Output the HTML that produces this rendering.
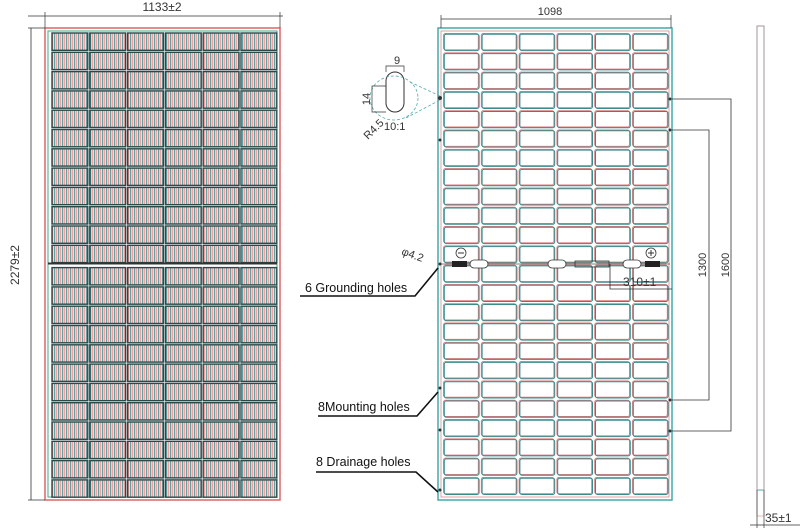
<!DOCTYPE html>
<html><head><meta charset="utf-8"><style>
html,body{margin:0;padding:0;background:#fff;width:803px;height:532px;overflow:hidden}
svg{display:block}
text{font-family:"Liberation Sans",sans-serif;fill:#333}
</style></head><body>
<svg id="s" width="803" height="532" viewBox="0 0 803 532" xmlns="http://www.w3.org/2000/svg">
<defs>
<pattern id="str" width="4" height="10" patternUnits="userSpaceOnUse">
<rect width="4" height="10" fill="#fff"/>
<rect x="0.3" width="1" height="10" fill="#e77"/>
<rect x="2.2" width="1.1" height="10" fill="#3a8a8a"/>
</pattern>
</defs>
<!-- left panel -->
<rect x="45" y="28" width="235" height="472" fill="#fff" stroke="#d66" stroke-width="1.5"/>
<rect x="48" y="31" width="229" height="466" fill="#fff" stroke="#4a8" stroke-width="1"/>
<g id="L"></g>
<line x1="28" y1="16" x2="283" y2="16" stroke="#333" stroke-width="0.8"/>
<line x1="45" y1="12" x2="45" y2="28" stroke="#333" stroke-width="0.7"/>
<line x1="280" y1="12" x2="280" y2="28" stroke="#333" stroke-width="0.7"/>
<text x="162" y="11" font-size="12" text-anchor="middle">1133±2</text>
<line x1="31" y1="28" x2="31" y2="500" stroke="#333" stroke-width="0.8"/>
<line x1="28" y1="28" x2="45" y2="28" stroke="#333" stroke-width="0.7"/>
<line x1="28" y1="500" x2="45" y2="500" stroke="#333" stroke-width="0.7"/>
<text x="0" y="0" font-size="12" text-anchor="middle" transform="translate(19,265) rotate(-90)">2279±2</text>
<!-- right panel -->
<rect x="438" y="28" width="234" height="472" fill="#fff" stroke="#4aa" stroke-width="1.5"/>
<rect x="441" y="31" width="228" height="466" fill="none" stroke="#d88" stroke-width="0.8"/>
<g id="R"></g>
<line x1="441" y1="19" x2="671" y2="19" stroke="#333" stroke-width="0.8"/>
<line x1="441" y1="15" x2="441" y2="28" stroke="#333" stroke-width="0.7"/>
<line x1="671" y1="15" x2="671" y2="28" stroke="#333" stroke-width="0.7"/>
<text x="550" y="15" font-size="11" text-anchor="middle">1098</text>
<!-- junction line -->
<line x1="441" y1="264" x2="670" y2="264" stroke="#555" stroke-width="0.8"/>
<rect x="452" y="261" width="15" height="6" fill="#222"/>
<rect x="470" y="260" width="18" height="8" rx="4" fill="#fff" stroke="#333" stroke-width="0.8"/>
<rect x="548" y="260" width="18" height="8" rx="4" fill="#fff" stroke="#333" stroke-width="0.8"/>
<rect x="575" y="261" width="34" height="6" fill="none" stroke="#333" stroke-width="0.8"/>
<rect x="623" y="260" width="18" height="8" rx="4" fill="#fff" stroke="#333" stroke-width="0.8"/>
<rect x="645" y="261" width="15" height="6" fill="#222"/>
<circle cx="461" cy="253" r="5" fill="none" stroke="#333" stroke-width="0.8"/><line x1="458" y1="253" x2="464" y2="253" stroke="#333"/>
<circle cx="651" cy="253" r="5" fill="none" stroke="#333" stroke-width="0.8"/><line x1="648" y1="253" x2="654" y2="253" stroke="#333"/><line x1="651" y1="250" x2="651" y2="256" stroke="#333"/>
<polyline points="610,264 610,289 672,289" fill="none" stroke="#333" stroke-width="0.8"/>
<text x="623" y="286" font-size="12">310±1</text>
<text x="0" y="0" font-size="11" transform="translate(422,262) rotate(20)" text-anchor="end">φ4.2</text>
<!-- right dims -->
<polyline points="672,99 731,99 731,431 672,431" fill="none" stroke="#333" stroke-width="0.8"/>
<polyline points="672,130 709,130 709,400 672,400" fill="none" stroke="#333" stroke-width="0.8"/>
<text font-size="11" text-anchor="middle" transform="translate(706,265) rotate(-90)">1300</text>
<text font-size="11" text-anchor="middle" transform="translate(729,265) rotate(-90)">1600</text>
<g fill="#333"><circle cx="440" cy="98" r="2"/><circle cx="440" cy="140" r="1.5"/><circle cx="440" cy="388" r="1.5"/><circle cx="440" cy="430" r="1.5"/><circle cx="670" cy="99" r="1.5"/><circle cx="670" cy="130" r="1.5"/><circle cx="670" cy="400" r="1.5"/><circle cx="670" cy="431" r="1.5"/><circle cx="440" cy="490" r="1.5"/><circle cx="440" cy="264" r="1.5"/></g>
<!-- detail -->
<rect x="386" y="72" width="18" height="40" rx="9" fill="#fff" stroke="#333" stroke-width="1"/>
<ellipse cx="394" cy="98" rx="24" ry="22" fill="none" stroke="#5aa" stroke-width="0.8" stroke-dasharray="3,2"/>
<line x1="410" y1="82" x2="440" y2="96" stroke="#5aa" stroke-width="0.8" stroke-dasharray="3,2"/>
<line x1="406" y1="118" x2="440" y2="100" stroke="#5aa" stroke-width="0.8" stroke-dasharray="3,2"/>
<polyline points="386,72 386,66 404,66 404,72" fill="none" stroke="#333" stroke-width="0.7"/>
<text x="397" y="64" font-size="11" text-anchor="middle">9</text>
<polyline points="386,86 372,86 372,112 386,112" fill="none" stroke="#333" stroke-width="0.7"/>
<text font-size="11" text-anchor="middle" transform="translate(370,99) rotate(-90)">14</text>
<text font-size="11" transform="translate(368,140) rotate(-45)">R4.5</text>
<text x="384" y="130" font-size="11">10:1</text>
<!-- side view -->
<rect x="757" y="26" width="7" height="464" fill="#fff" stroke="#5aa" stroke-width="1"/>
<rect x="757" y="26" width="7" height="490" fill="none" stroke="#d88" stroke-width="0.6"/>
<line x1="757" y1="490" x2="757" y2="528" stroke="#333" stroke-width="0.7"/>
<line x1="764" y1="490" x2="764" y2="528" stroke="#333" stroke-width="0.7"/>
<line x1="750" y1="525" x2="800" y2="525" stroke="#333" stroke-width="0.7"/>
<text x="765" y="522" font-size="12">35±1</text>
<!-- labels -->
<text x="305" y="292" font-size="12.5" style="fill:#111">6 Grounding holes</text>
<polyline points="300,296 415,296 438,268" fill="none" stroke="#111" stroke-width="1.6"/>
<text x="318" y="411" font-size="12.5" style="fill:#111">8Mounting holes</text>
<polyline points="318,416 417,416 438,392" fill="none" stroke="#111" stroke-width="1.6"/>
<text x="316" y="466" font-size="12.5" style="fill:#111">8 Drainage holes</text>
<polyline points="316,472 416,472 438,492" fill="none" stroke="#111" stroke-width="1.6"/>
</svg>
<script>
var ns="http://www.w3.org/2000/svg";
function el(g,t,a){var e=document.createElementNS(ns,t);for(var k in a)e.setAttribute(k,a[k]);g.appendChild(e);return e;}
var L=document.getElementById("L"),R=document.getElementById("R");
var cw=37.8,rh=19.3;
for(var c=0;c<6;c++){for(var r=0;r<24;r++){
 var y=32+r*rh+(r>=12?3:0);
 el(L,"rect",{x:51+c*cw+1,y:y+1,width:cw-2,height:rh-2,fill:"url(#str)",stroke:"#2a4a4a","stroke-width":1.4});
 el(R,"rect",{x:442+c*cw+1.5,y:32+r*rh+1.5,width:cw-3,height:rh-3,rx:2,fill:"#fff",stroke:"#d77","stroke-width":0.9});
 el(R,"rect",{x:442+c*cw+2.3,y:32+r*rh+2.3,width:cw-3,height:rh-3,rx:2,fill:"none",stroke:"#3a8a8a","stroke-width":1});
}}
el(L,"line",{x1:48,y1:263.5,x2:277,y2:263.5,stroke:"#333","stroke-width":2});
</script>
</body></html>
